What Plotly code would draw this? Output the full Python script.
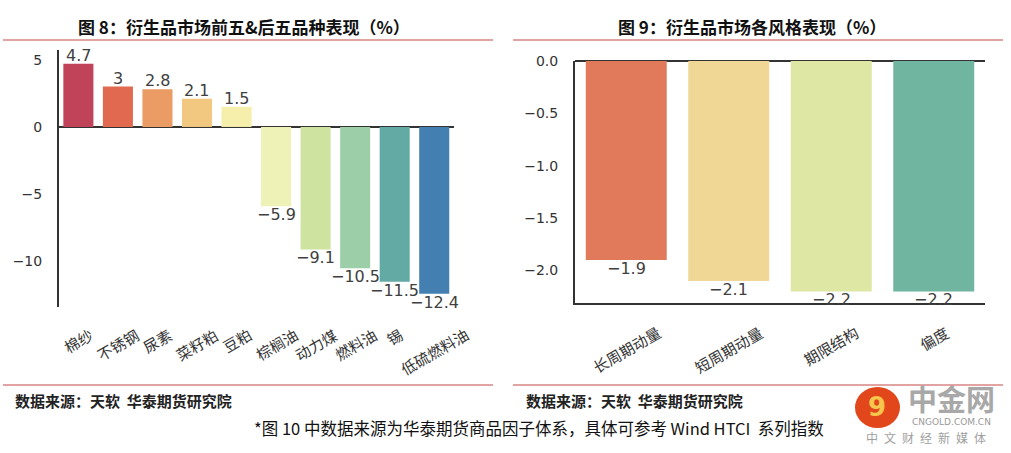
import plotly.graph_objects as go

# 图8：前五&后五品种
left_names = ["棉纱", "不锈钢", "尿素", "菜籽粕", "豆粕", "棕榈油", "动力煤", "燃料油", "锡", "低硫燃料油"]
left_values = [4.7, 3, 2.8, 2.1, 1.5, -5.9, -9.1, -10.5, -11.5, -12.4]
left_colors = ["#c1435a", "#e0694f", "#eb9c64", "#f2c880", "#f6eeab",
               "#eef2b6", "#cfe3a1", "#9ccfa8", "#63aaa4", "#437fb0"]
left_ticks = [5, 0, -5, -10]

# 图9：各风格表现
right_names = ["长周期动量", "短周期动量", "期限结构", "偏度"]
right_values = [-1.9, -2.1, -2.2, -2.2]
right_colors = ["#e07a5a", "#f0d795", "#dee8a4", "#70b59f"]
right_ticks = [0.0, -0.5, -1.0, -1.5, -2.0]

W, H = 1011, 453
CJK = "Noto Sans CJK SC"


def px(x):
    return x / W


def py(y):
    return 1 - y / H


def fmt(v, nd=None):
    s = f"{v:.{nd}f}" if nd is not None else f"{v:g}"
    return s.replace("-", "\u2212")


fig = go.Figure()

fig.add_trace(go.Bar(
    x=left_names, y=left_values,
    marker=dict(color=left_colors, line=dict(width=0)),
    width=0.76,
    xaxis="x", yaxis="y",
    showlegend=False,
))

fig.add_trace(go.Bar(
    x=right_names, y=right_values,
    marker=dict(color=right_colors, line=dict(width=0)),
    width=0.79,
    xaxis="x2", yaxis="y2",
    showlegend=False,
))

tickfont = dict(family="DejaVu Sans", size=14, color="#333333")
catfont = dict(family=CJK, size=15, color="#333333")
valfont = dict(family="DejaVu Sans", size=16, color="#404040")

fig.update_layout(
    width=W, height=H,
    margin=dict(l=0, r=0, t=0, b=0),
    paper_bgcolor="white", plot_bgcolor="white",
    xaxis=dict(
        domain=[px(59), px(454)], anchor="y",
        range=[-0.49, 9.5], automargin=False,
        showgrid=False, showline=False, zeroline=False,
        showticklabels=False, ticks="",
    ),
    yaxis=dict(
        domain=[py(307), py(50)], anchor="x",
        range=[-13.38, 5.72], automargin=False,
        tickvals=left_ticks,
        ticktext=[fmt(v) for v in left_ticks],
        showgrid=False, showline=True, linecolor="#333333", linewidth=2,
        zeroline=True, zerolinecolor="#333333", zerolinewidth=2,
        ticks="outside", ticklen=12, tickcolor="rgba(0,0,0,0)",
        tickfont=tickfont,
    ),
    xaxis2=dict(
        domain=[px(575), px(985)], anchor="y2",
        range=[-0.5, 3.5], automargin=False,
        showgrid=False, showline=True, linecolor="#333333", linewidth=2,
        zeroline=False, showticklabels=False, ticks="",
    ),
    yaxis2=dict(
        domain=[py(303), py(61)], anchor="x2",
        range=[-2.31, 0], automargin=False,
        tickvals=right_ticks,
        ticktext=[fmt(v, 1) for v in right_ticks],
        showgrid=False, showline=True, linecolor="#333333", linewidth=2,
        zeroline=True, zerolinecolor="#333333", zerolinewidth=2,
        ticks="outside", ticklen=12, tickcolor="rgba(0,0,0,0)",
        tickfont=tickfont,
    ),
)

# 数值标签（紧贴柱端）
for xr, yr, names, values in (("x", "y", left_names, left_values),
                              ("x2", "y2", right_names, right_values)):
    for name, v in zip(names, values):
        fig.add_annotation(text=fmt(v), x=name, y=v, xref=xr, yref=yr,
                           xanchor="center", yanchor="bottom" if v >= 0 else "top",
                           yshift=-3 if v >= 0 else 3,
                           showarrow=False, font=valfont)

# 倾斜的类别标签（居中对齐到柱子）
for name in left_names:
    fig.add_annotation(text=name, x=name, y=py(321), xref="x", yref="paper",
                       xanchor="center", yanchor="top", textangle=-30,
                       showarrow=False, font=catfont)
for name in right_names:
    fig.add_annotation(text=name, x=name, y=py(319), xref="x2", yref="paper",
                       xanchor="center", yanchor="top", textangle=-30,
                       showarrow=False, font=catfont)

# 标题与分隔线
title_font = dict(family=CJK, size=17, color="#111111", weight="bold")
fig.add_annotation(text="图 8：衍生品市场前五&后五品种表现（%）", x=px(244), y=py(27),
                   xref="paper", yref="paper", xanchor="center", yanchor="middle",
                   showarrow=False, font=title_font)
fig.add_annotation(text="图 9：衍生品市场各风格表现（%）", x=px(752), y=py(27),
                   xref="paper", yref="paper", xanchor="center", yanchor="middle",
                   showarrow=False, font=title_font)

for y in (40, 385):
    for x0, x1 in ((3, 493), (513, 1003)):
        fig.add_shape(type="line", xref="paper", yref="paper",
                      x0=px(x0), x1=px(x1), y0=py(y), y1=py(y),
                      line=dict(color="#d98585", width=1.5))

src_font = dict(family=CJK, size=15, color="#222222", weight="bold")
for x in (13, 524):
    fig.add_annotation(text="数据来源：天软  华泰期货研究院", x=px(x), y=py(400),
                       xref="paper", yref="paper", xanchor="left", yanchor="middle",
                       showarrow=False, font=src_font)

fig.add_annotation(text="*图 10 中数据来源为华泰期货商品因子体系，具体可参考 Wind HTCI  系列指数",
                   x=px(539), y=py(428), xref="paper", yref="paper",
                   xanchor="center", yanchor="middle", showarrow=False,
                   font=dict(family=CJK, size=16.5, color="#111111"))

# 水印
fig.add_shape(type="circle", xref="paper", yref="paper",
              x0=px(855), x1=px(900), y0=py(428), y1=py(387),
              fillcolor="#e2461b", line=dict(width=0))
fig.add_annotation(text="9", x=px(877), y=py(407), xref="paper", yref="paper",
                   xanchor="center", yanchor="middle", showarrow=False,
                   font=dict(family="DejaVu Sans", size=26, color="#f7c64c", weight="bold"))
fig.add_annotation(text="中金网", x=px(951), y=py(398), xref="paper", yref="paper",
                   xanchor="center", yanchor="middle", showarrow=False,
                   font=dict(family=CJK, size=29, color="#a8a8a8", weight="bold"))
fig.add_annotation(text="CNGOLD.COM.CN", x=px(951), y=py(422), xref="paper", yref="paper",
                   xanchor="center", yanchor="middle", showarrow=False,
                   font=dict(family="DejaVu Sans", size=9, color="#9a9a9a"))
fig.add_annotation(text="\u2002".join("中文财经新媒体"), x=px(926), y=py(437),
                   xref="paper", yref="paper", xanchor="center", yanchor="middle",
                   showarrow=False, font=dict(family=CJK, size=12, color="#a0a0a0"))

# 去掉页面默认边距，使图与窗口左上角对齐；隐藏工具栏
fig.write_html("out.html", config={"displayModeBar": False},
               post_script="document.body.style.margin='0';")
